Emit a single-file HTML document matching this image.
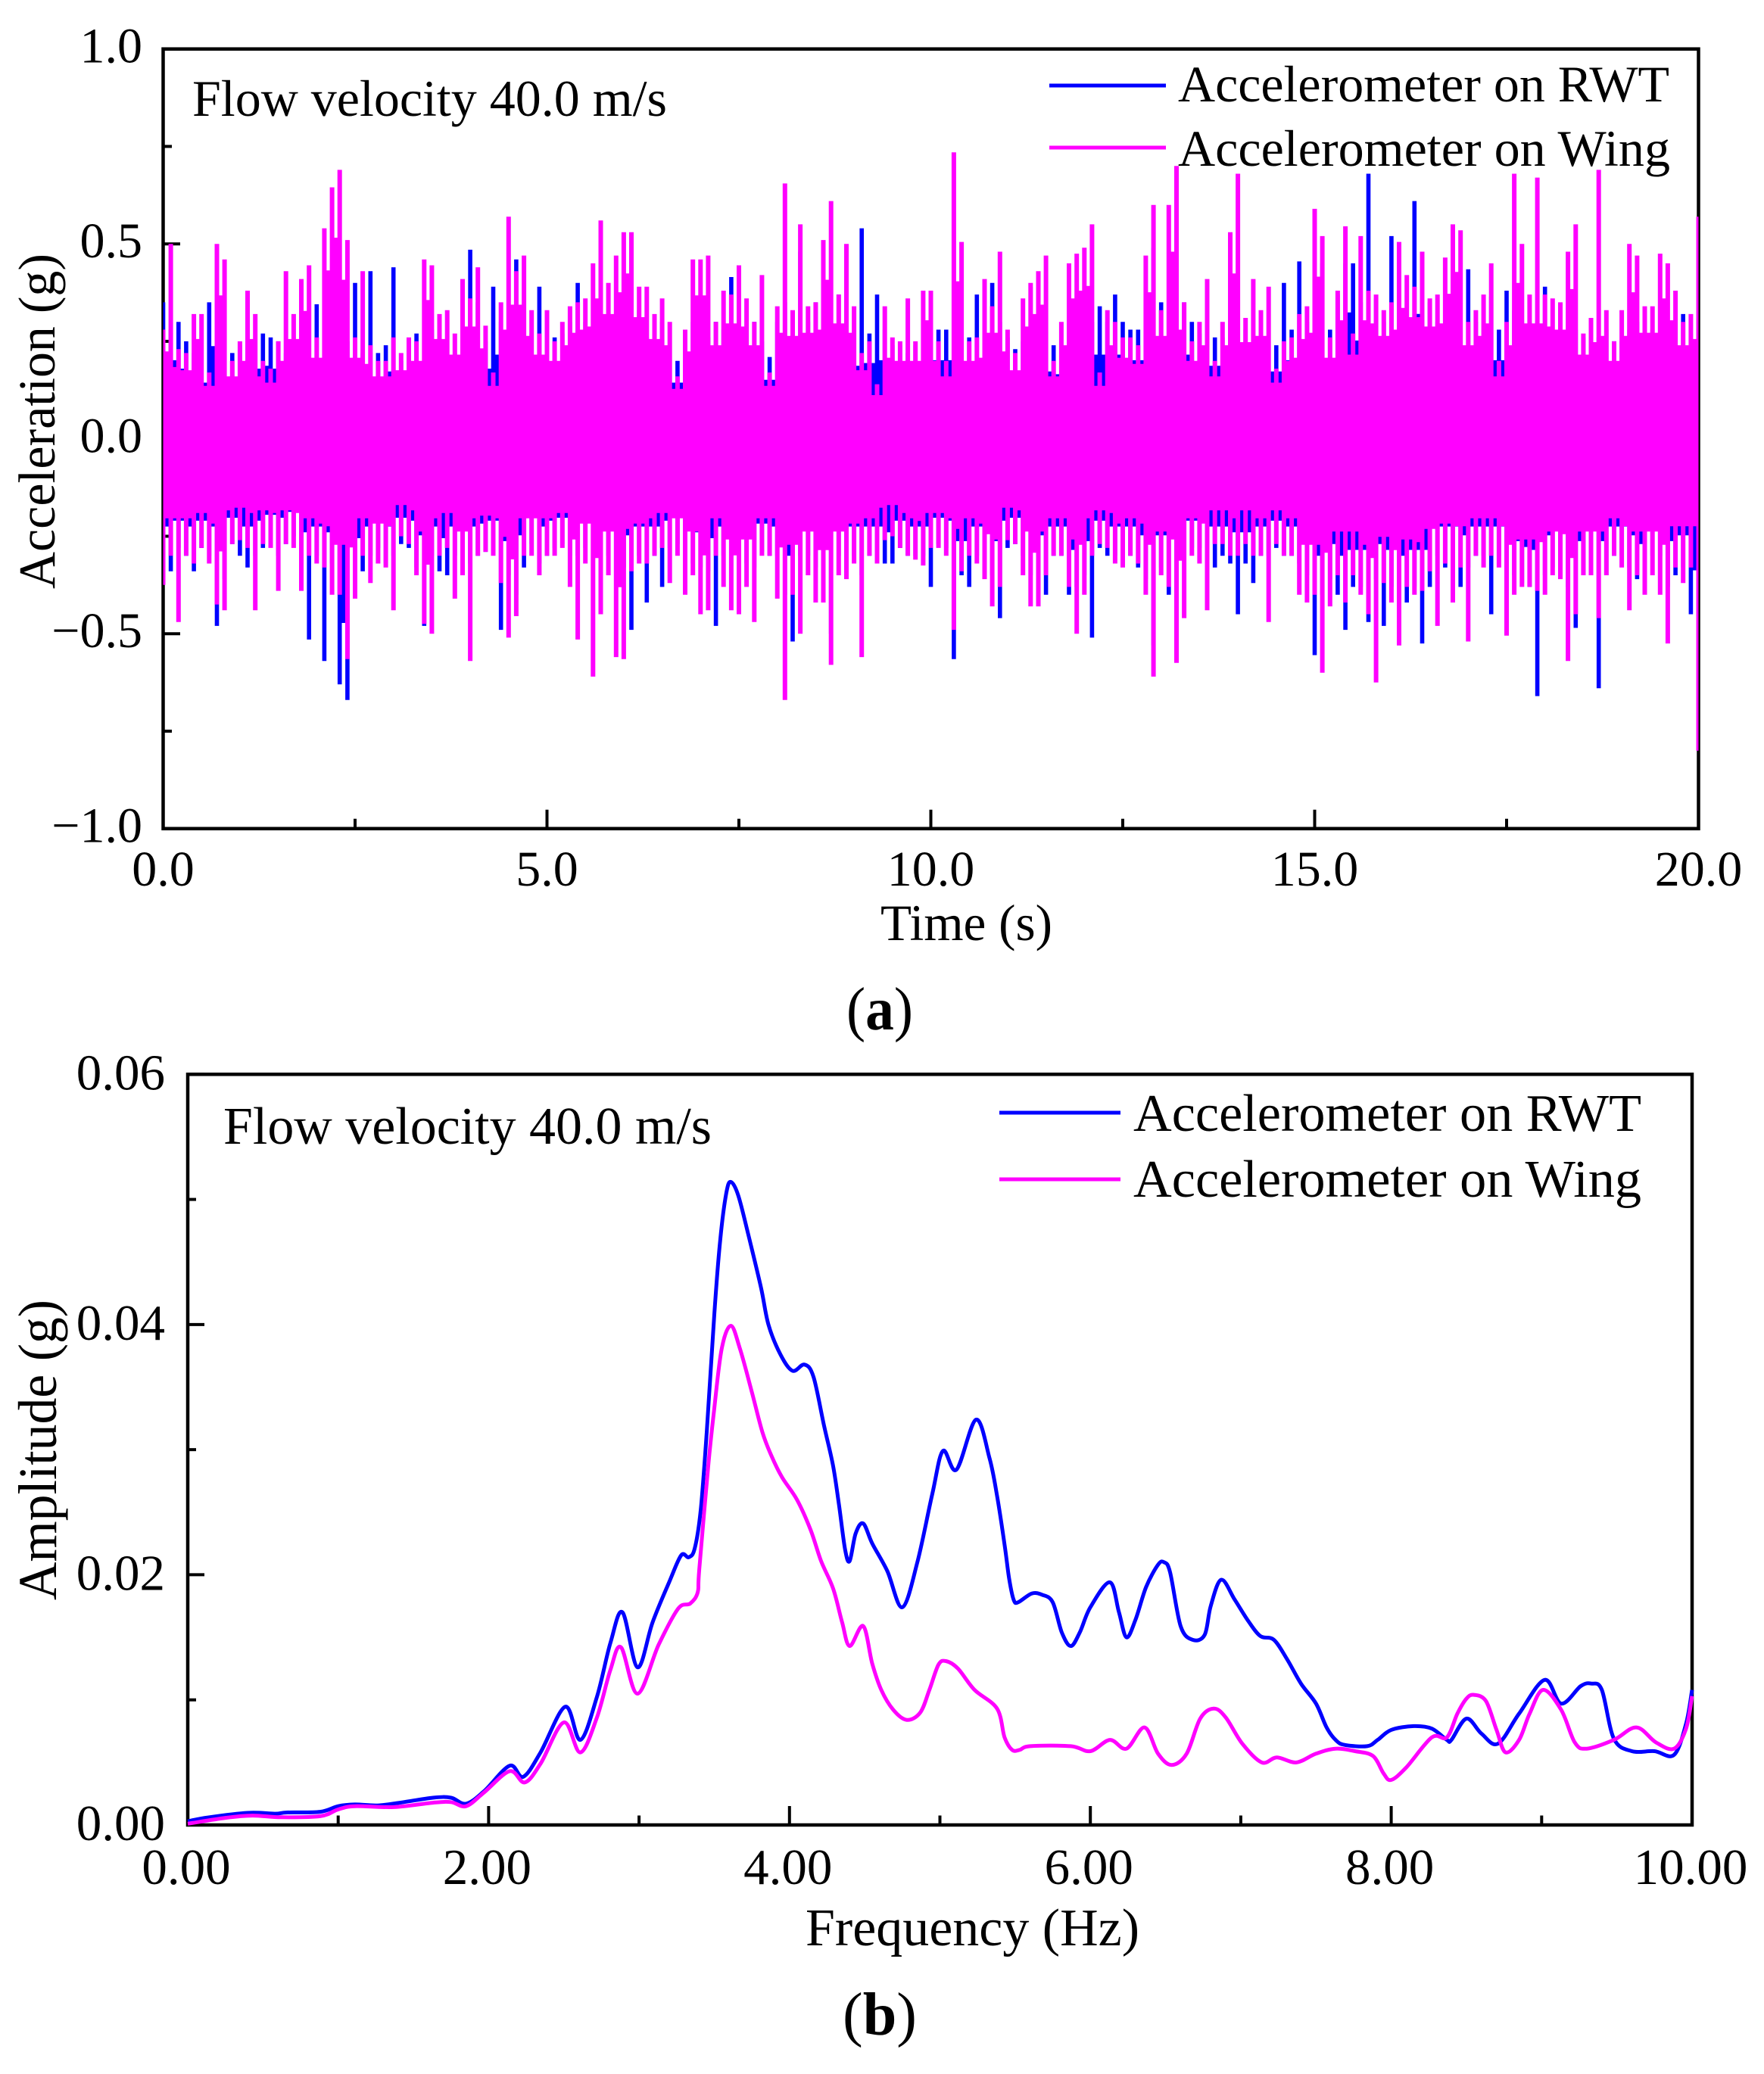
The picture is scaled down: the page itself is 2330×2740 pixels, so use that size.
<!DOCTYPE html>
<html>
<head>
<meta charset="utf-8">
<title>Acceleration time history and amplitude spectrum</title>
<style>
html,body{margin:0;padding:0;background:#fff;}
svg{display:block;}
text{font-family:"Liberation Serif",serif;fill:#000;}
</style>
</head>
<body>
<svg id="figure" xmlns="http://www.w3.org/2000/svg" width="2330" height="2740" viewBox="0 0 2330 2740">
  <rect x="0" y="0" width="2330" height="2740" fill="#fff"/>

  <g id="panel-a">
    <rect x="215.5" y="64.7" width="2028" height="1030" fill="none" stroke="#000" stroke-width="4.5"/>
    <g id="ticks-a"></g>
    <g id="series-a"></g>
    <text x="254" y="153" font-size="68" textLength="627" lengthAdjust="spacingAndGlyphs">Flow velocity 40.0 m/s</text>
    <line x1="1386" y1="113" x2="1540" y2="113" stroke="#0000ff" stroke-width="5"/>
    <text x="1556" y="134" font-size="68" textLength="649" lengthAdjust="spacingAndGlyphs">Accelerometer on RWT</text>
    <line x1="1386" y1="195" x2="1540" y2="195" stroke="#ff00ff" stroke-width="5"/>
    <text x="1556" y="219" font-size="68" textLength="650" lengthAdjust="spacingAndGlyphs">Accelerometer on Wing</text>
    <text x="1163" y="1242" font-size="68" textLength="227" lengthAdjust="spacingAndGlyphs">Time (s)</text>
    <text transform="translate(72 778) rotate(-90)" font-size="69" textLength="443" lengthAdjust="spacingAndGlyphs">Acceleration (g)</text>
    <text x="1118" y="1360" font-size="80" textLength="88" lengthAdjust="spacingAndGlyphs">(<tspan font-weight="bold">a</tspan>)</text>
  </g>

  <g id="panel-b">
    <rect x="248" y="1419.3" width="1987" height="991.7" fill="none" stroke="#000" stroke-width="4.5"/>
    <g id="ticks-b"></g>
    <g id="series-b"></g>
    <text x="295" y="1511" font-size="70" textLength="645" lengthAdjust="spacingAndGlyphs">Flow velocity 40.0 m/s</text>
    <line x1="1320" y1="1470" x2="1480" y2="1470" stroke="#0000ff" stroke-width="5"/>
    <text x="1497" y="1494" font-size="70" textLength="671" lengthAdjust="spacingAndGlyphs">Accelerometer on RWT</text>
    <line x1="1320" y1="1558" x2="1480" y2="1558" stroke="#ff00ff" stroke-width="5"/>
    <text x="1497" y="1581" font-size="70" textLength="671" lengthAdjust="spacingAndGlyphs">Accelerometer on Wing</text>
    <text x="1064" y="2570" font-size="70" textLength="441" lengthAdjust="spacingAndGlyphs">Frequency (Hz)</text>
    <text transform="translate(74 2114) rotate(-90)" font-size="72" textLength="397" lengthAdjust="spacingAndGlyphs">Amplitude (g)</text>
    <text x="1113" y="2688" font-size="80" textLength="98" lengthAdjust="spacingAndGlyphs">(<tspan font-weight="bold">b</tspan>)</text>
  </g>
</svg>

<script>
// Panel (a) tick values and labels
const timeMajorTicks = [0, 5, 10, 15, 20];
const timeMinorTicks = [2.5, 7.5, 12.5, 17.5];
const timeTickLabels = ["0.0", "5.0", "10.0", "15.0", "20.0"];
const accelMajorTicks = [1, 0.5, 0, -0.5, -1];
const accelMinorTicks = [0.75, 0.25, -0.25, -0.75];
const accelTickLabels = ["1.0", "0.5", "0.0", "\u22120.5", "\u22121.0"];

// Panel (a) sampling: one positive and one negative excursion per bin
const timeStep = 0.1;

// Accelerometer on RWT, positive excursions (g), 0.1 s bins
const rwtUp = [
.35,.28,.3,.25,.22,.2,.35,.33,.32,.22,
.24,.2,.25,.27,.26,.25,.22,.22,.26,.28,
.345,.28,.415,.3,.25,.4,.22,.43,.22,.24,
.44,.2,.24,.27,.32,.28,.25,.24,.22,.3,
.485,.35,.25,.39,.3,.3,.46,.26,.27,.39,
.26,.26,.27,.3,.4,.3,.28,.3,.25,.22,
.32,.28,.33,.26,.3,.3,.24,.2,.26,.3,
.28,.26,.3,.28,.415,.32,.24,.3,.25,.21,
.3,.35,.28,.48,.3,.35,.26,.3,.37,.28,
.26,.54,.27,.37,.28,.24,.24,.22,.24,.28,
.28,.28,.28,.3,.3,.26,.37,.27,.4,.3,
.26,.23,.25,.39,.3,.25,.24,.23,.3,.3,
.3,.3,.34,.3,.37,.3,.28,.28,.28,.49,
.35,.3,.3,.35,.3,.27,.27,.26,.26,.26,
.31,.28,.26,.26,.26,.24,.4,.28,.455,.3,
.3,.45,.28,.37,.45,.45,.35,.68,.36,.3,
.52,.36,.3,.61,.445,.35,.3,.33,.33,.3,
.435,.3,.25,.365,.28,.38,.33,.3,.3,.3,
.39,.27,.27,.25,.28,.26,.27,.26,.28,.25,
.25,.28,.3,.3,.28,.27,.28,.3,.32,.25,
.3];

// Accelerometer on RWT, negative excursions (g)
const rwtDown = [
-.3,-.34,-.28,-.3,-.34,-.28,-.3,-.48,-.36,-.27,
-.3,-.33,-.3,-.28,-.26,-.3,-.27,-.25,-.32,-.515,
-.3,-.57,-.32,-.63,-.67,-.35,-.34,-.3,-.28,-.32,
-.3,-.27,-.28,-.33,-.48,-.3,-.34,-.35,-.3,-.28,
-.32,-.3,-.29,-.28,-.49,-.35,-.4,-.33,-.27,-.32,
-.3,-.28,-.27,-.3,-.3,-.28,-.3,-.33,-.3,-.32,
-.33,-.49,-.3,-.42,-.3,-.38,-.28,-.27,-.3,-.32,
-.33,-.34,-.48,-.3,-.3,-.3,-.32,-.33,-.29,-.3,
-.3,-.4,-.52,-.3,-.3,-.33,-.33,-.5,-.3,-.3,
-.3,-.35,-.3,-.3,-.32,-.32,-.28,-.3,-.3,-.3,
-.38,-.27,-.28,-.565,-.35,-.38,-.3,-.3,-.35,-.46,
-.28,-.27,-.3,-.35,-.33,-.4,-.3,-.3,-.4,-.38,
-.35,-.51,-.28,-.3,-.3,-.3,-.3,-.33,-.36,-.53,
-.33,-.4,-.32,-.3,-.28,-.28,-.3,-.33,-.3,-.32,
-.45,-.32,-.37,-.3,-.3,-.28,-.3,-.3,-.32,-.35,
-.555,-.4,-.36,-.4,-.49,-.38,-.38,-.47,-.36,-.48,
-.38,-.4,-.42,-.38,-.525,-.38,-.3,-.33,-.3,-.38,
-.33,-.3,-.3,-.45,-.3,-.33,-.35,-.37,-.38,-.66,
-.35,-.33,-.3,-.38,-.485,-.35,-.3,-.64,-.35,-.3,
-.3,-.33,-.36,-.38,-.3,-.3,-.38,-.35,-.33,-.45,
-.5];

// Accelerometer on Wing, positive excursions (g)
const wingUp = [
.28,.5,.23,.22,.32,.32,.17,.5,.46,.2,
.25,.38,.32,.2,.18,.25,.43,.32,.41,.445,
.26,.54,.645,.69,.51,.26,.43,.24,.2,.2,
.26,.22,.26,.25,.46,.445,.32,.33,.27,.41,
.36,.44,.29,.17,.35,.57,.43,.47,.33,.27,
.33,.25,.3,.34,.35,.36,.45,.56,.4,.47,
.53,.53,.39,.39,.32,.36,.3,.16,.28,.46,
.46,.47,.3,.38,.37,.445,.36,.3,.42,.17,
.34,.655,.33,.55,.34,.35,.51,.61,.37,.5,
.34,.22,.25,.14,.34,.26,.25,.36,.25,.38,
.38,.25,.2,.735,.505,.25,.26,.41,.34,.48,
.28,.22,.36,.4,.43,.47,.2,.3,.45,.475,
.49,.55,.17,.33,.3,.26,.26,.24,.47,.6,
.33,.6,.7,.35,.25,.3,.41,.2,.3,.53,
.68,.31,.41,.33,.39,.18,.25,.26,.32,.34,
.59,.52,.26,.38,.545,.27,.52,.38,.37,.33,
.35,.505,.42,.39,.48,.36,.37,.465,.55,.535,
.3,.33,.37,.45,.2,.3,.68,.5,.37,.67,
.37,.36,.35,.48,.55,.27,.31,.69,.33,.25,
.33,.5,.47,.34,.34,.475,.45,.38,.3,.32,
.57];

// Accelerometer on Wing, negative excursions (g)
const wingDown = [
-.375,-.3,-.47,-.3,-.32,-.28,-.32,-.425,-.44,-.27,
-.26,-.28,-.44,-.27,-.28,-.39,-.27,-.28,-.39,-.3,
-.32,-.33,-.4,-.4,-.565,-.41,-.3,-.37,-.32,-.33,
-.44,-.25,-.27,-.35,-.475,-.5,-.3,-.28,-.41,-.35,
-.57,-.3,-.29,-.3,-.37,-.51,-.455,-.3,-.3,-.35,
-.3,-.3,-.28,-.38,-.515,-.32,-.61,-.45,-.35,-.56,
-.565,-.34,-.32,-.32,-.3,-.28,-.37,-.3,-.4,-.35,
-.45,-.44,-.3,-.38,-.44,-.45,-.38,-.47,-.3,-.3,
-.41,-.67,-.4,-.5,-.35,-.42,-.42,-.58,-.35,-.36,
-.32,-.56,-.3,-.32,-.26,-.25,-.28,-.3,-.31,-.325,
-.28,-.28,-.3,-.49,-.34,-.3,-.32,-.36,-.43,-.38,
-.26,-.27,-.35,-.43,-.43,-.35,-.3,-.3,-.38,-.5,
-.4,-.3,-.27,-.28,-.32,-.33,-.3,-.32,-.4,-.61,
-.35,-.38,-.575,-.46,-.3,-.32,-.44,-.27,-.27,-.3,
-.3,-.27,-.3,-.3,-.47,-.27,-.3,-.3,-.4,-.42,
-.4,-.6,-.43,-.35,-.42,-.35,-.4,-.45,-.625,-.37,
-.42,-.53,-.38,-.4,-.39,-.34,-.48,-.32,-.42,-.33,
-.52,-.3,-.33,-.3,-.33,-.505,-.4,-.38,-.38,-.39,
-.4,-.35,-.36,-.57,-.45,-.35,-.35,-.46,-.35,-.3,
-.33,-.44,-.35,-.4,-.35,-.4,-.525,-.33,-.37,-.33,
-.8];

// Panel (b) tick values and labels
const freqMajorTicks = [0, 2, 4, 6, 8, 10];
const freqMinorTicks = [1, 3, 5, 7, 9];
const freqTickLabels = ["0.00", "2.00", "4.00", "6.00", "8.00", "10.00"];
const ampMajorTicks = [0.06, 0.04, 0.02, 0];
const ampMinorTicks = [0.05, 0.03, 0.01];
const ampTickLabels = ["0.06", "0.04", "0.02", "0.00"];

// Accelerometer on RWT spectrum
const rwtFreq = [0,.135,.4,.58,.66,.88,1,1.11,1.26,1.41,1.63,1.75,1.85,1.97,2.14,2.23,2.345,2.51,2.61,2.72,2.81,2.89,2.99,3.09,3.2,3.28,3.33,3.37,3.41,3.45,3.5,3.54,3.58,3.61,3.66,3.73,3.81,3.86,3.94,4.02,4.1,4.16,4.23,4.29,4.33,4.37,4.4,4.44,4.49,4.55,4.65,4.75,4.85,4.95,5.02,5.11,5.24,5.33,5.38,5.43,5.46,5.49,5.52,5.61,5.68,5.75,5.81,5.87,5.93,6,6.13,6.19,6.24,6.3,6.37,6.45,6.49,6.53,6.6,6.68,6.76,6.8,6.87,6.96,7.05,7.13,7.22,7.31,7.4,7.5,7.57,7.63,7.69,7.84,7.91,8,8.15,8.27,8.37,8.4,8.5,8.6,8.71,8.85,9.02,9.13,9.26,9.33,9.4,9.48,9.6,9.75,9.88,9.96,10];
const rwtAmp = [.0003,.0006,.00097,.0009,.001,.00105,.0015,.00164,.00156,.00178,.00218,.00218,.0017,.0027,.00474,.00385,.0058,.00945,.0068,.01025,.01456,.017,.0126,.0162,.0194,.02155,.0214,.0221,.0252,.0314,.0408,.0468,.0505,.0514,.0503,.047,.043,.04,.0376,.0363,.0368,.0358,.0319,.0287,.0255,.022,.0211,.0233,.0241,.0225,.0203,.0174,.021,.0265,.0299,.0284,.0324,.0293,.0263,.0224,.0197,.018,.0178,.0185,.0184,.0178,.0154,.0143,.0154,.0174,.0194,.017,.015,.0164,.019,.0208,.021,.0202,.0159,.0148,.0152,.0175,.0196,.018,.0163,.0151,.0148,.0132,.0113,.0097,.0078,.0068,.0064,.0063,.0068,.0076,.0079,.0077,.0068,.0068,.0085,.0073,.0065,.0089,.0116,.0097,.0111,.0113,.0108,.0069,.0059,.0059,.0056,.0081,.0108];

// Accelerometer on Wing spectrum
const wingFreq = [0,.25,.43,.62,.88,1,1.11,1.37,1.63,1.75,1.85,1.97,2.14,2.24,2.345,2.5,2.61,2.72,2.81,2.88,2.99,3.13,3.26,3.34,3.39,3.4,3.46,3.5,3.55,3.61,3.67,3.75,3.82,3.88,3.95,4.05,4.14,4.21,4.29,4.35,4.4,4.49,4.55,4.61,4.69,4.78,4.87,4.93,4.99,5.04,5.12,5.23,5.38,5.43,5.48,5.53,5.6,5.87,6,6.13,6.24,6.36,6.45,6.54,6.64,6.73,6.82,6.9,7.01,7.14,7.24,7.37,7.5,7.63,7.76,7.88,7.95,8,8.1,8.27,8.37,8.44,8.5,8.55,8.63,8.7,8.76,8.85,8.92,9.01,9.13,9.22,9.3,9.48,9.63,9.76,9.88,9.96,10];
const wingAmp = [.0001,.00057,.00075,.00062,.0007,.00124,.0015,.00143,.00178,.00183,.0015,.0026,.0043,.0034,.0049,.0082,.0058,.0086,.0124,.0142,.0105,.0144,.0173,.0177,.0186,.0204,.0287,.0333,.0381,.0399,.0381,.0346,.0314,.0295,.0278,.026,.0236,.0211,.0189,.0162,.0143,.0159,.0129,.0108,.0092,.0084,.009,.0108,.0128,.0131,.0125,.0108,.0093,.007,.006,.006,.0063,.0063,.0059,.0068,.0061,.0078,.0057,.0048,.0057,.0085,.0093,.0086,.0065,.005,.0054,.005,.0057,.0061,.0059,.0055,.0041,.0036,.0046,.007,.007,.0089,.0101,.0104,.0099,.0076,.0058,.0068,.0089,.0108,.0092,.0066,.0061,.0068,.0078,.0066,.0061,.0077,.0103];

const SVG_NS = "http://www.w3.org/2000/svg";

// Axis functions
function scaleLinear(d0, d1, r0, r1) {
  return function (v) { return r0 + (v - d0) * (r1 - r0) / (d1 - d0); };
}
const xTime = scaleLinear(0, 20, 215.5, 2243.5);
const yAccel = scaleLinear(1, -1, 64.7, 1094.7);
const xFreq = scaleLinear(0, 10, 248, 2235);
const yAmp = scaleLinear(0.06, 0, 1419.3, 2411);

const ticksA = document.getElementById("ticks-a");
const ticksB = document.getElementById("ticks-b");
const seriesA = document.getElementById("series-a");
const seriesB = document.getElementById("series-b");

function tickLine(parent, x1, y1, x2, y2) {
  const el = document.createElementNS(SVG_NS, "line");
  el.setAttribute("x1", x1);
  el.setAttribute("y1", y1);
  el.setAttribute("x2", x2);
  el.setAttribute("y2", y2);
  el.setAttribute("stroke", "#000");
  el.setAttribute("stroke-width", "4");
  
  
  parent.appendChild(el);
}

function tickText(parent, x, y, anchor, size, label) {
  const el = document.createElementNS(SVG_NS, "text");
  el.setAttribute("x", x);
  el.setAttribute("y", y);
  el.setAttribute("text-anchor", anchor);
  el.setAttribute("font-size", size);
  el.textContent = label;
  
  
  parent.appendChild(el);
}

// Panel (a) axes
timeMajorTicks.forEach(function (t, i) {
  tickLine(ticksA, xTime(t), 1094.7, xTime(t), 1069.7);
  tickText(ticksA, xTime(t), 1170, "middle", 66, timeTickLabels[i]);
});
timeMinorTicks.forEach(function (t) {
  tickLine(ticksA, xTime(t), 1094.7, xTime(t), 1081.7);
});
accelMajorTicks.forEach(function (v, i) {
  tickLine(ticksA, 215.5, yAccel(v), 238, yAccel(v));
  tickText(ticksA, 188, yAccel(v) + 18, "end", 66, accelTickLabels[i]);
});
accelMinorTicks.forEach(function (v) {
  tickLine(ticksA, 215.5, yAccel(v), 227, yAccel(v));
});

// Panel (b) axes
freqMajorTicks.forEach(function (f, i) {
  tickLine(ticksB, xFreq(f), 2411, xFreq(f), 2386);
  tickText(ticksB, xFreq(f) - 2, 2489, "middle", 67, freqTickLabels[i]);
});
freqMinorTicks.forEach(function (f) {
  tickLine(ticksB, xFreq(f), 2411, xFreq(f), 2398.5);
});
ampMajorTicks.forEach(function (v, i) {
  tickLine(ticksB, 248, yAmp(v), 270, yAmp(v));
  tickText(ticksB, 218, yAmp(v) + 20, "end", 67, ampTickLabels[i]);
});
ampMinorTicks.forEach(function (v) {
  tickLine(ticksB, 248, yAmp(v), 259, yAmp(v));
});

// Dense oscillation drawn as its filled extent: one flat-topped spike per bin, with
// the dense body between neighbouring spikes scaled from the smaller of the two.
function oscillationPath(up, down, halfWidth, bodyUp, bodyDown) {
  const leftEdge = xTime(0);
  const rightEdge = xTime(20);
  const top = [];
  const bottom = [];
  up.forEach(function (u, i) {
    const cx = xTime(i * timeStep);
    const x0 = Math.max(leftEdge, cx - halfWidth).toFixed(1);
    const x1 = Math.min(rightEdge, cx + halfWidth).toFixed(1);
    top.push(x0 + " " + yAccel(u).toFixed(1));
    top.push(x1 + " " + yAccel(u).toFixed(1));
    bottom.push(x0 + " " + yAccel(down[i]).toFixed(1));
    bottom.push(x1 + " " + yAccel(down[i]).toFixed(1));
    if (i < up.length - 1) {
      const nextX = (xTime((i + 1) * timeStep) - halfWidth).toFixed(1);
      const hi = yAccel(bodyUp * Math.min(u, up[i + 1])).toFixed(1);
      const lo = yAccel(bodyDown * Math.max(down[i], down[i + 1])).toFixed(1);
      top.push(x1 + " " + hi);
      top.push(nextX + " " + hi);
      bottom.push(x1 + " " + lo);
      bottom.push(nextX + " " + lo);
    }
  });
  return "M" + top.concat(bottom.reverse()).join("L") + "Z";
}

const rwtTimeLine = document.createElementNS(SVG_NS, "path");
rwtTimeLine.setAttribute("d", oscillationPath(rwtUp, rwtDown, 2.8, 0.72, 0.75));
rwtTimeLine.setAttribute("fill", "#0000ff");


seriesA.appendChild(rwtTimeLine);

const wingTimeLine = document.createElementNS(SVG_NS, "path");
wingTimeLine.setAttribute("d", oscillationPath(wingUp, wingDown, 3, 0.8, 0.68));
wingTimeLine.setAttribute("fill", "#ff00ff");


seriesA.appendChild(wingTimeLine);

// Spectrum curves, smoothed through the read points
function spectrumPath(freq, amp) {
  const pts = freq.map(function (f, i) { return [xFreq(f), yAmp(amp[i])]; });
  let d = "M" + pts[0][0].toFixed(1) + " " + pts[0][1].toFixed(1);
  for (let i = 0; i < pts.length - 1; i++) {
    const p0 = pts[Math.max(0, i - 1)];
    const p1 = pts[i];
    const p2 = pts[i + 1];
    const p3 = pts[Math.min(pts.length - 1, i + 2)];
    const c1x = p1[0] + (p2[0] - p0[0]) / 6;
    const c1y = p1[1] + (p2[1] - p0[1]) / 6;
    const c2x = p2[0] - (p3[0] - p1[0]) / 6;
    const c2y = p2[1] - (p3[1] - p1[1]) / 6;
    d += "C" + c1x.toFixed(1) + " " + c1y.toFixed(1) + " " + c2x.toFixed(1) + " " + c2y.toFixed(1) + " " + p2[0].toFixed(1) + " " + p2[1].toFixed(1);
  }
  return d;
}

const rwtSpectrumLine = document.createElementNS(SVG_NS, "path");
rwtSpectrumLine.setAttribute("d", spectrumPath(rwtFreq, rwtAmp));
rwtSpectrumLine.setAttribute("fill", "none");
rwtSpectrumLine.setAttribute("stroke", "#0000ff");
rwtSpectrumLine.setAttribute("stroke-width", "5");
rwtSpectrumLine.setAttribute("stroke-linejoin", "round");


seriesB.appendChild(rwtSpectrumLine);

const wingSpectrumLine = document.createElementNS(SVG_NS, "path");
wingSpectrumLine.setAttribute("d", spectrumPath(wingFreq, wingAmp));
wingSpectrumLine.setAttribute("fill", "none");
wingSpectrumLine.setAttribute("stroke", "#ff00ff");
wingSpectrumLine.setAttribute("stroke-width", "5");
wingSpectrumLine.setAttribute("stroke-linejoin", "round");


seriesB.appendChild(wingSpectrumLine);
</script>
</body>
</html>
